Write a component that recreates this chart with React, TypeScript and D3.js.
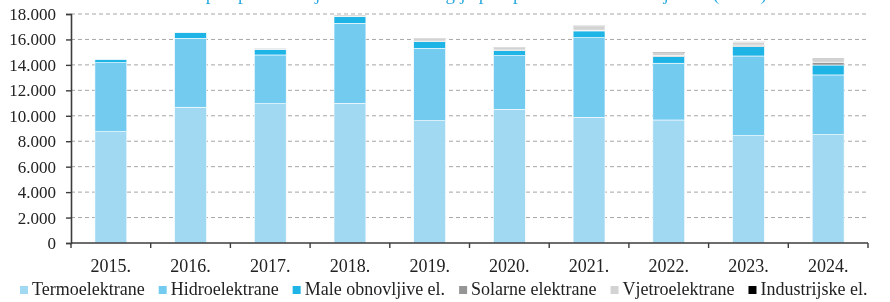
import React, { useEffect, useRef } from 'react';
import * as d3 from 'd3';

// Proizvodnja električne energije po tipu elektrana (GWh)
const years = ['2015.', '2016.', '2017.', '2018.', '2019.', '2020.', '2021.', '2022.', '2023.', '2024.'];
const termo = [8750, 10670, 10950, 10980, 9615, 10510, 9880, 9670, 8435, 8515];
const hidro = [5425, 5420, 3830, 6290, 5685, 4220, 6260, 4460, 6265, 4695];
const male = [265, 475, 450, 520, 530, 390, 530, 520, 730, 780];
const solarne = [5, 10, 15, 20, 40, 50, 60, 80, 120, 220];
const vjetro = [0, 20, 30, 80, 200, 200, 300, 230, 250, 220];
const industrijske = [0, 15, 15, 25, 25, 25, 40, 45, 50, 70];
const seriesNames = ['Termoelektrane', 'Hidroelektrane', 'Male obnovljive el.', 'Solarne elektrane', 'Vjetroelektrane', 'Industrijske el.'];
const yTicks = [0, 2000, 4000, 6000, 8000, 10000, 12000, 14000, 16000, 18000];
const title = 'Ukupna proizvodnja električne energije po tipu elektrana u Crnoj Gori (GWh)';

const colors = ['#a2d9f2', '#73cbf0', '#1fb4e6', '#959595', '#d3d3d3', '#000000'];

export default function App() {
  const ref = useRef<SVGSVGElement | null>(null);

  useEffect(() => {
    const width = 890;
    const height = 302;
    const margin = { top: 14, right: 22, bottom: 59, left: 71 };
    const svg = d3.select(ref.current);
    svg.selectAll('*').remove();
    svg.attr('width', width).attr('height', height)
      .style('font-family', '"Liberation Serif", "Times New Roman", serif');

    const rows = years.map((y, i) => ({
      year: y,
      s0: termo[i], s1: hidro[i], s2: male[i], s3: solarne[i], s4: vjetro[i], s5: industrijske[i],
    }));
    const keys = ['s0', 's1', 's2', 's3', 's4', 's5'];
    const stacked = d3.stack<any>().keys(keys)(rows);

    const x = d3.scaleBand()
      .domain(years)
      .range([margin.left, width - margin.right])
      .paddingInner(0.6)
      .paddingOuter(0.3);

    const y = d3.scaleLinear()
      .domain([0, 18000])
      .range([height - margin.bottom, margin.top]);

    // title (cut off at the top edge, as in the source)
    svg.append('text')
      .attr('x', 470)
      .attr('y', 0)
      .attr('text-anchor', 'middle')
      .attr('font-size', 19)
      .attr('fill', '#2aa9e0')
      .text(title);

    // gridlines
    svg.append('g')
      .selectAll('line')
      .data(yTicks.filter(t => t > 0))
      .join('line')
      .attr('x1', margin.left)
      .attr('x2', width - margin.right)
      .attr('y1', d => y(d))
      .attr('y2', d => y(d))
      .attr('stroke', '#a6a6a6')
      .attr('stroke-width', 1)
      .attr('stroke-dasharray', '4,3');

    // bars
    svg.append('g')
      .selectAll('g')
      .data(stacked)
      .join('g')
      .attr('fill', (_, i) => colors[i])
      .selectAll('rect')
      .data(d => d)
      .join('rect')
      .attr('x', d => x(d.data.year) as number)
      .attr('width', x.bandwidth())
      .attr('y', d => y(d[1]))
      .attr('height', d => Math.max(0, y(d[0]) - y(d[1])))
      .attr('stroke', '#ffffff')
      .attr('stroke-width', 0.6);

    // y axis
    const yAxis = svg.append('g')
      .attr('transform', `translate(${margin.left},0)`)
      .call(d3.axisLeft(y).tickValues(yTicks).tickSize(5).tickPadding(10)
        .tickFormat(d => d3.format(',')(d as number).replace(/,/g, '.')));
    yAxis.select('.domain').attr('stroke', '#3c3c3c').attr('stroke-width', 1.6);
    yAxis.selectAll('.tick line').attr('stroke', '#3c3c3c').attr('stroke-width', 1.4);
    yAxis.selectAll('text').attr('font-size', 17).attr('fill', '#222').attr('font-family', '"Liberation Serif", serif');

    // x axis: ticks at category boundaries
    const step = x.step();
    const boundaries = d3.range(years.length + 1).map(i => margin.left + i * step);
    const xg = svg.append('g');
    xg.append('line')
      .attr('x1', margin.left)
      .attr('x2', width - margin.right)
      .attr('y1', y(0))
      .attr('y2', y(0))
      .attr('stroke', '#3c3c3c')
      .attr('stroke-width', 1.6);
    xg.selectAll('line.tk')
      .data(boundaries)
      .join('line')
      .attr('class', 'tk')
      .attr('x1', d => d)
      .attr('x2', d => d)
      .attr('y1', y(0))
      .attr('y2', y(0) + 5)
      .attr('stroke', '#3c3c3c')
      .attr('stroke-width', 1.4);
    xg.selectAll('text')
      .data(years)
      .join('text')
      .attr('x', d => (x(d) as number) + x.bandwidth() / 2)
      .attr('y', 272)
      .attr('text-anchor', 'middle')
      .attr('font-size', 18)
      .attr('fill', '#222')
      .text(d => d);

    // legend
    const legend = svg.append('g');
    let lx = 20;
    seriesNames.forEach((name, i) => {
      legend.append('rect')
        .attr('x', lx)
        .attr('y', 286)
        .attr('width', 8)
        .attr('height', 8)
        .attr('fill', colors[i]);
      const t = legend.append('text')
        .attr('x', lx + 12)
        .attr('y', 295)
        .attr('font-size', 18)
        .attr('fill', '#222')
        .text(name);
      const w = (t.node() as SVGTextElement).getComputedTextLength();
      lx += 12 + w + 14;
    });
  }, []);

  return (
    <div style={{ position: 'fixed', left: 0, top: 0 }}>
      <svg ref={ref} />
    </div>
  );
}
